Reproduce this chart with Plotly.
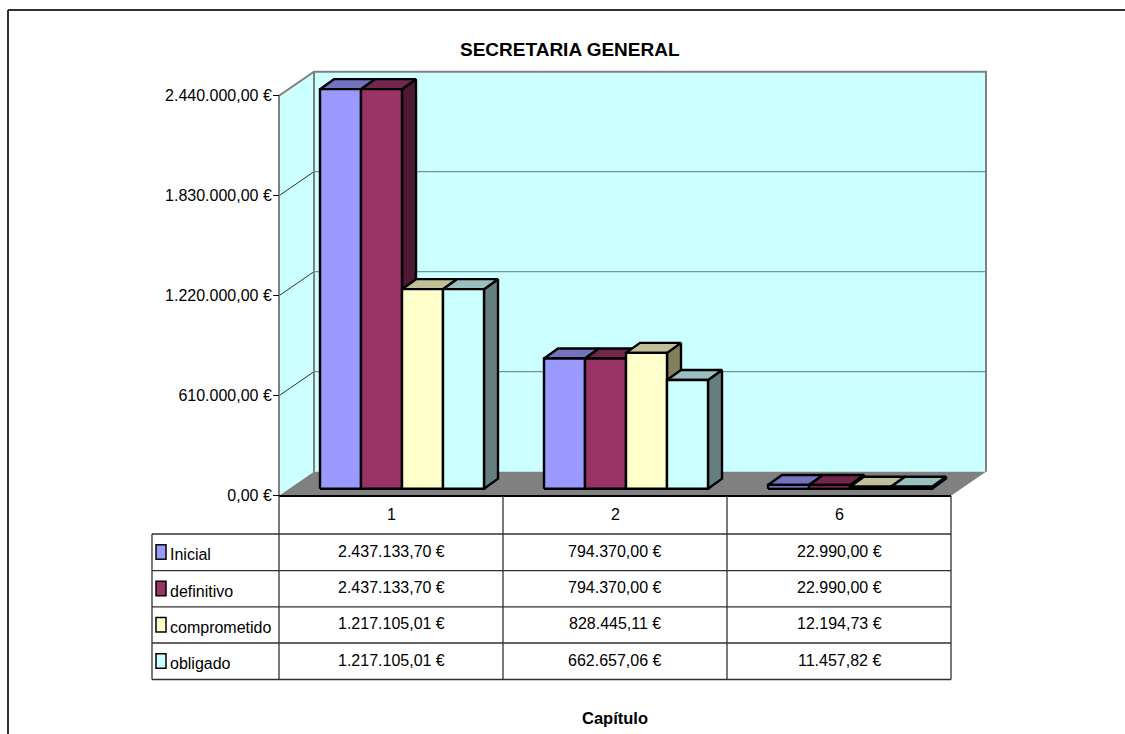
import plotly.graph_objects as go

# ---------- data ----------
categories = ["1", "2", "6"]
series_names = ["Inicial", "definitivo", "comprometido", "obligado"]
inicial = [2437133.70, 794370.00, 22990.00]
definitivo = [2437133.70, 794370.00, 22990.00]
comprometido = [1217105.01, 828445.11, 12194.73]
obligado = [1217105.01, 662657.06, 11457.82]
y_ticks = [0, 610000, 1220000, 1830000, 2440000]
title_text = "SECRETARIA GENERAL"
x_title = "Capítulo"

# ---------- styles ----------
front_colors = ["#9999FF", "#993366", "#FFFFCC", "#CCFFFF"]
top_colors = ["#7373BF", "#73264C", "#BFBF99", "#99BFBF"]
side_colors = ["#4D4D80", "#4D1933", "#80805F", "#668080"]
all_values = [inicial, definitivo, comprometido, obligado]
FONT = "Liberation Sans"
BASE_SIZE = 16

W, H = 1125, 734
X0, Y0 = 279, 495.7      # pixel of category-axis start and of value 0
CAT_PX = 224             # pixels per category
VAL_PER_PX = 6100        # euros per pixel
BAR_PX = 41
GAP_PX = 31
WALL = (35, 24)          # depth of the chart box
BAR_FRONT = (10, 7)      # depth of the bars' front plane
BAR_DEPTH = (14, 10)     # depth of the bars themselves


def dx(px):
    return px / CAT_PX


def dy(px):
    return px * VAL_PER_PX


def eur(v):
    s = f"{v:,.2f}".replace(",", "X").replace(".", ",").replace("X", ".")
    return s + " €"


def poly(color, xs, ys, line="rgba(0,0,0,0)", width=0):
    return go.Scatter(x=xs, y=ys, mode="lines", fill="toself", fillcolor=color,
                      line=dict(color=line, width=width), hoverinfo="skip",
                      showlegend=False)


def seg(color, xs, ys, width=1):
    return go.Scatter(x=xs, y=ys, mode="lines", line=dict(color=color, width=width),
                      hoverinfo="skip", showlegend=False)


fig = go.Figure()
n = len(categories)
wx, wy = dx(WALL[0]), dy(WALL[1])
top = y_ticks[-1]

# walls and floor
fig.add_trace(poly("#CCFFFF", [wx, wx + n, wx + n, wx, wx], [wy, wy, wy + top, wy + top, wy]))
fig.add_trace(poly("#CCFFFF", [0, wx, wx, 0, 0], [0, wy, wy + top, top, 0]))
fig.add_trace(poly("#808080", [0, n, n + wx, wx, 0], [0, 0, wy, wy, 0]))
for t in y_ticks[1:-1]:
    fig.add_trace(seg("#5F7A7A", [wx, wx + n], [wy + t, wy + t], 1))
    fig.add_trace(seg("#303030", [0, wx], [t, wy + t], 1))
fig.add_trace(seg("#808080", [0, 0, wx, wx + n, wx + n], [0, top, wy + top, wy + top, wy], 2))
fig.add_trace(seg("#808080", [wx, wx], [wy, wy + top], 2))

# bars: side, top, front, painted left to right
bw = dx(BAR_PX)
fx, fy = dx(BAR_FRONT[0]), dy(BAR_FRONT[1])
ddx, ddy = dx(BAR_DEPTH[0]), dy(BAR_DEPTH[1])
for s, values in enumerate(all_values):
    side_x, side_y, top_x, top_y, front_x, front_y = [], [], [], [], [], []
    for c, v in enumerate(values):
        l = c + dx(GAP_PX) + fx + s * bw
        r = l + bw
        b = fy
        t = fy + v
        side_x += [r, r + ddx, r + ddx, r, r, None]
        side_y += [b, b + ddy, t + ddy, t, b, None]
        top_x += [l, r, r + ddx, l + ddx, l, None]
        top_y += [t, t, t + ddy, t + ddy, t, None]
        front_x += [l, r, r, l, l, None]
        front_y += [b, b, t, t, b, None]
    fig.add_trace(poly(side_colors[s], side_x, side_y, "#000000", 2.4))
    fig.add_trace(poly(top_colors[s], top_x, top_y, "#000000", 2.4))
    fig.add_trace(poly(front_colors[s], front_x, front_y, "#000000", 2.4))

shapes, annotations = [], []


def px_x(p):
    return p / W


def px_y(p):
    return 1 - p / H


def line(x0, y0, x1, y1, color="#202020", width=1):
    shapes.append(dict(type="line", xref="paper", yref="paper",
                       x0=px_x(x0), y0=px_y(y0), x1=px_x(x1), y1=px_y(y1),
                       line=dict(color=color, width=width)))


def text(x, y, s, size=BASE_SIZE, anchor="center", bold=False):
    annotations.append(dict(xref="paper", yref="paper", x=px_x(x), y=px_y(y), text=f"<b>{s}</b>" if bold else s,
                            showarrow=False, xanchor=anchor, yanchor="middle",
                            font=dict(family=FONT, size=size, color="#000000"),
                            borderpad=0, borderwidth=0))


# outer frame
line(8, 734, 8, 10, "#303030", 2)
line(8, 10, 1125, 10, "#303030", 2)

# data table
row_lines = [534, 570.7, 606.8, 643, 679.5]
col_lines = [279, 503, 727, 951]
line(279, 496, 951, 496, "#000000", 2)
for y in row_lines:
    line(152, y, 951, y, "#303030", 1.3)
line(152, 534, 152, 679.5, "#303030", 1.3)
for x in col_lines:
    line(x, 496, x, 679.5, "#303030", 1.3)
for c, name in enumerate(categories):
    text((col_lines[c] + col_lines[c + 1]) / 2, 514.5, name)
for s, (name, values) in enumerate(zip(series_names, all_values)):
    y_top, y_bot = row_lines[s], row_lines[s + 1]
    mid = (y_top + y_bot) / 2
    shapes.append(dict(type="rect", xref="paper", yref="paper",
                       x0=px_x(156), x1=px_x(166),
                       y0=px_y(mid - 7.5), y1=px_y(mid + 7),
                       fillcolor=front_colors[s], line=dict(color="#000000", width=1.5)))
    text(170, mid + 2.5, name, anchor="left")
    for c, v in enumerate(values):
        text((col_lines[c] + col_lines[c + 1]) / 2, mid - 1, eur(v))

text(570, 49, title_text, size=19, bold=True)
text(615, 718, x_title, size=16.5, bold=True)

fig.update_layout(
    width=W, height=H, margin=dict(l=0, r=0, t=0, b=0), autosize=False,
    paper_bgcolor="#FFFFFF", plot_bgcolor="rgba(0,0,0,0)", showlegend=False,
    shapes=shapes, annotations=annotations,
    xaxis=dict(range=[-X0 / CAT_PX, (W - X0) / CAT_PX], domain=[0, 1], visible=False, fixedrange=True),
    yaxis=dict(range=[(Y0 - H) * VAL_PER_PX, Y0 * VAL_PER_PX], domain=[0, 1], anchor="free",
               position=X0 / W, side="left", tickmode="array", tickvals=y_ticks,
               ticktext=[eur(v) for v in y_ticks], ticks="outside", ticklen=6, tickwidth=1,
               tickcolor="#000000", showgrid=False, zeroline=False, showline=False,
               ticklabelstandoff=-2,
               tickfont=dict(family=FONT, size=BASE_SIZE, color="#000000"), fixedrange=True),
)

fig.write_html("out.html", config={"displayModeBar": False},
               post_script="document.body.style.margin='0';")
